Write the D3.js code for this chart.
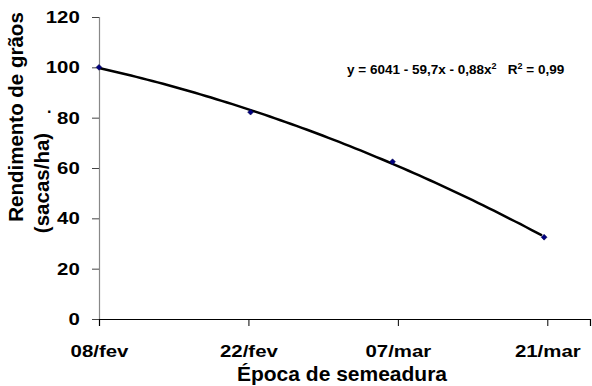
<!DOCTYPE html>
<html>
<head>
<meta charset="utf-8">
<title>Rendimento x Época de semeadura</title>
<script src="https://cdn.jsdelivr.net/npm/d3@7"></script>
<style>
  body { margin: 0; background: #fff; }
  text { font-family: "Liberation Sans", Arial, sans-serif; font-weight: bold; }
</style>
</head>
<body>
<script>
// dados (dias contados a partir de 08/fev)
var tickDays = [0, 14, 28, 42];
var tickLabels = ["08/fev", "22/fev", "07/mar", "21/mar"];
var yTicks = [0, 20, 40, 60, 80, 100, 120];
var pointDays = [0, 14.2, 27.5, 41.7];
var yields = [100, 82.2, 62.5, 32.5];
var equation = "y = 6041 - 59,7x - 0,88x";

var width = 592, height = 386;
var margin = { top: 17, right: 2, bottom: 67, left: 99 };

var svg = d3.select("body").append("svg").attr("width", width).attr("height", height);

var xScale = d3.scaleLinear().domain([0, 46]).range([margin.left, width - margin.right]);
var yScale = d3.scaleLinear().domain([0, 120]).range([height - margin.bottom, margin.top]);

// eixo y
var gy = svg.append("g")
    .attr("transform", "translate(" + margin.left + ",0)")
    .call(d3.axisLeft(yScale).tickValues(yTicks).tickSize(7));
gy.select(".domain").attr("stroke", "#888").attr("stroke-width", 1.2);
gy.selectAll(".tick line").attr("stroke", "#444");
gy.selectAll(".tick text")
    .attr("font-size", "17px").attr("fill", "#000")
    .attr("x", -16).attr("transform", "scale(1.2,1)");

// eixo x
var gx = svg.append("g")
    .attr("transform", "translate(0," + (height - margin.bottom) + ")")
    .call(d3.axisBottom(xScale).tickValues(tickDays).tickSize(7).tickPadding(19)
        .tickFormat(function (d, i) { return tickLabels[i]; }));
gx.select(".domain").attr("stroke", "#000").attr("stroke-width", 1.2);
gx.selectAll(".tick line").attr("stroke", "#000");
gx.selectAll(".tick text")
    .attr("font-size", "17px").attr("fill", "#000")
    .attr("transform", "scale(1.2,1)");

// titulos
svg.append("text")
    .attr("x", 342).attr("y", 381)
    .attr("text-anchor", "middle")
    .attr("font-size", "21px")
    .text("Época de semeadura");

svg.append("text")
    .attr("transform", "translate(23,117) rotate(-90)")
    .attr("text-anchor", "middle")
    .attr("font-size", "20.5px")
    .text("Rendimento de grãos");
svg.append("text")
    .attr("transform", "translate(49,183) rotate(-90)")
    .attr("text-anchor", "middle")
    .attr("font-size", "20.5px")
    .text("(sacas/ha)");

svg.append("text")
    .attr("x", 47).attr("y", 113)
    .attr("font-size", "16px")
    .text(".");

// linha de tendencia polinomial (minimos quadrados, grau 2)
function fitQuadratic(xs, ys) {
    var n = xs.length, s = [0, 0, 0, 0, 0], t = [0, 0, 0];
    for (var i = 0; i < n; i++) {
        for (var k = 0; k < 5; k++) s[k] += Math.pow(xs[i], k);
        for (var k = 0; k < 3; k++) t[k] += ys[i] * Math.pow(xs[i], k);
    }
    var A = [[s[0], s[1], s[2], t[0]], [s[1], s[2], s[3], t[1]], [s[2], s[3], s[4], t[2]]];
    for (var c = 0; c < 3; c++) {
        for (var r = c + 1; r < 3; r++) {
            var f = A[r][c] / A[c][c];
            for (var k = c; k < 4; k++) A[r][k] -= f * A[c][k];
        }
    }
    var b = [0, 0, 0];
    for (var r = 2; r >= 0; r--) {
        var v = A[r][3];
        for (var k = r + 1; k < 3; k++) v -= A[r][k] * b[k];
        b[r] = v / A[r][r];
    }
    return b;
}
var coef = fitQuadratic(pointDays, yields);
var trend = d3.range(0, pointDays[pointDays.length - 1] + 0.01, 0.5).map(function (d) {
    return [d, coef[0] + coef[1] * d + coef[2] * d * d];
});

svg.append("path")
    .datum(trend)
    .attr("fill", "none")
    .attr("stroke", "#000")
    .attr("stroke-width", 2.5)
    .attr("d", d3.line()
        .x(function (d) { return xScale(d[0]); })
        .y(function (d) { return yScale(d[1]); }));

// pontos (losangos)
svg.append("g")
    .selectAll("path")
    .data(pointDays)
    .enter()
    .append("path")
    .attr("transform", function (d, i) { return "translate(" + xScale(d) + "," + yScale(yields[i]) + ")"; })
    .attr("d", d3.symbol().type(d3.symbolDiamond2).size(22))
    .attr("fill", "#000080")
    .attr("stroke", "#000040")
    .attr("stroke-width", 0.5);

// equacao
var eq = svg.append("text")
    .attr("x", 347).attr("y", 74)
    .attr("font-size", "13.5px");
eq.append("tspan").text(equation);
eq.append("tspan").attr("dy", -5).attr("font-size", "9px").text("2");
eq.append("tspan").attr("dy", 5).attr("font-size", "13.5px").text("\u00a0\u00a0\u00a0R");
eq.append("tspan").attr("dy", -5).attr("font-size", "9px").text("2");
eq.append("tspan").attr("dy", 5).attr("font-size", "13.5px").text(" = 0,99");
</script>
</body>
</html>
